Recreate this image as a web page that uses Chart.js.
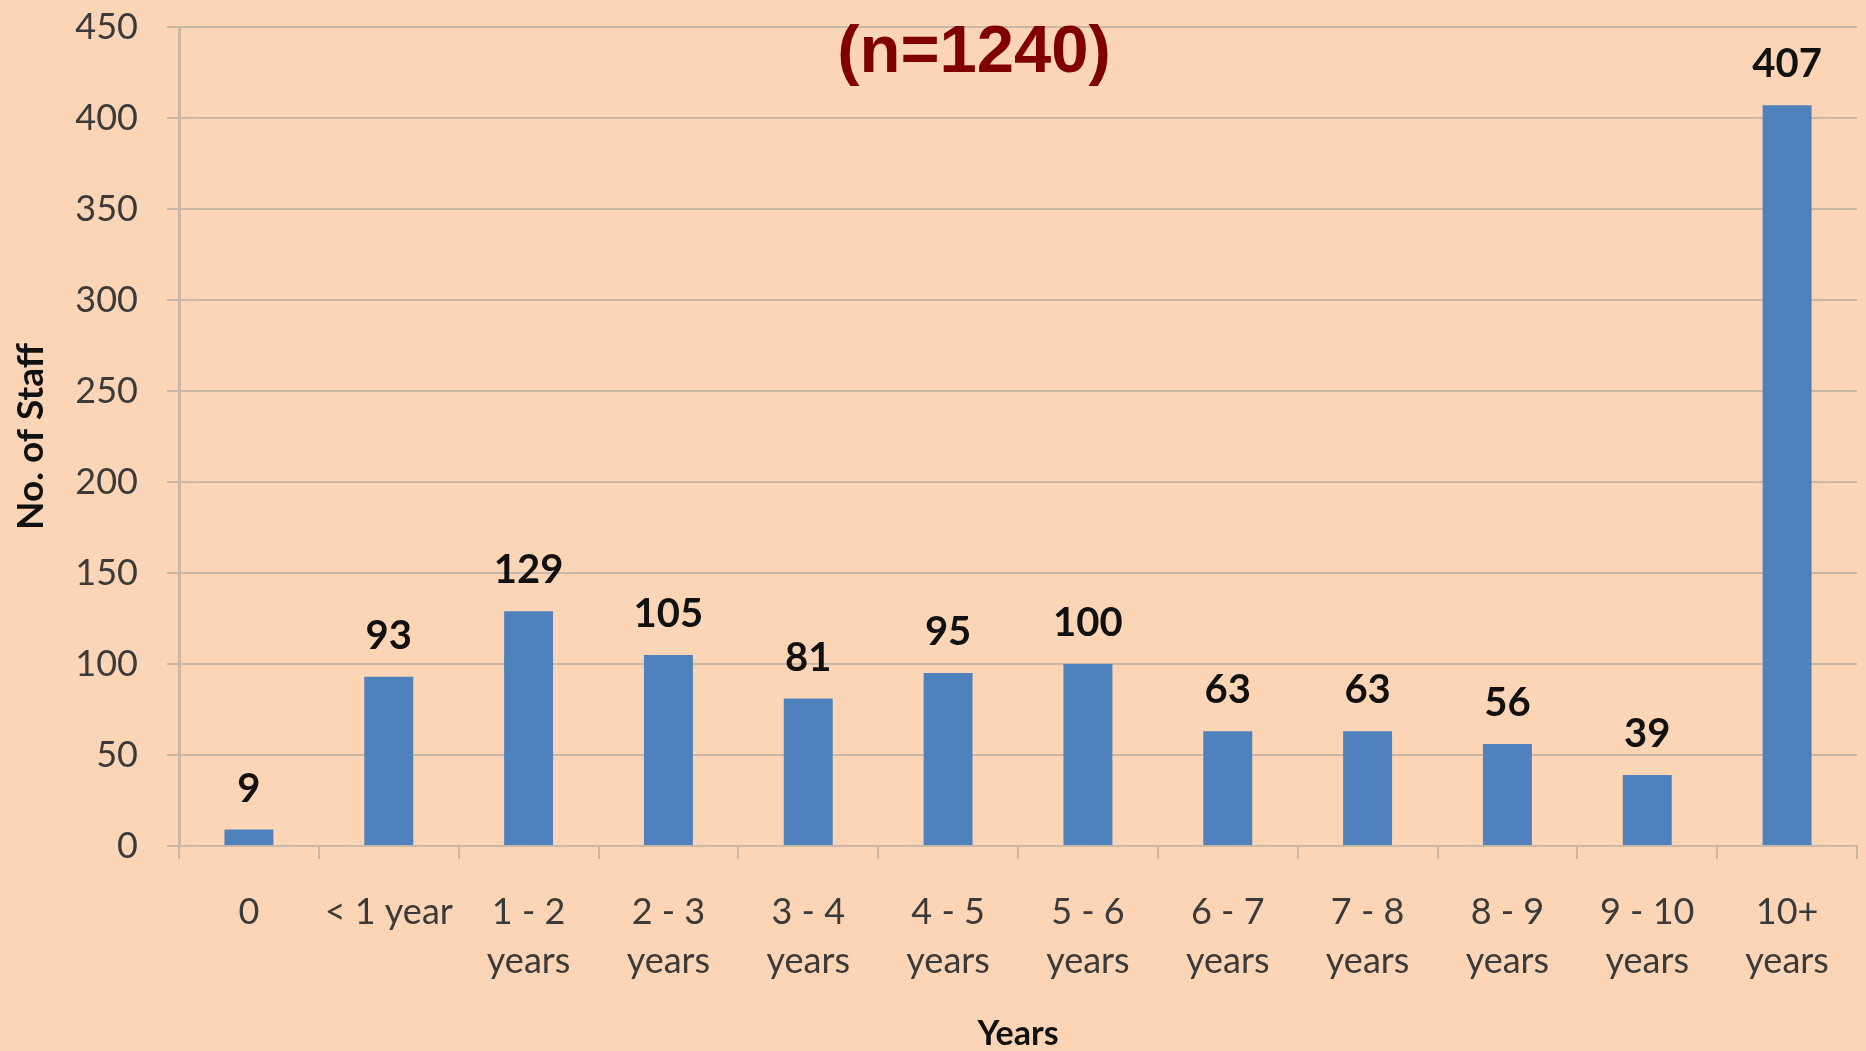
<!DOCTYPE html>
<html>
<head>
<meta charset="utf-8">
<script src="https://cdn.jsdelivr.net/npm/chart.js@4.4.1/dist/chart.umd.min.js"></script>
<style>
  html, body { margin: 0; padding: 0; background: #FBD5B5; }
  #wrap { width: 1866px; height: 1051px; position: relative; }
</style>
</head>
<body>
<div id="wrap"><canvas id="myChart"></canvas></div>
<script>
const categories = ['0', '< 1 year', ['1 - 2', 'years'], ['2 - 3', 'years'], ['3 - 4', 'years'],
    ['4 - 5', 'years'], ['5 - 6', 'years'], ['6 - 7', 'years'], ['7 - 8', 'years'],
    ['8 - 9', 'years'], ['9 - 10', 'years'], ['10+', 'years']];
const staff = [9, 93, 129, 105, 81, 95, 100, 63, 63, 56, 39, 407];
const yTicks = [0, 50, 100, 150, 200, 250, 300, 350, 400, 450];
const chartTitle = '(n=1240)';

const gridColor = '#C9B8A8';
const font = 'Lato';

// numbers above the bars
const valueLabels = {
    id: 'valueLabels',
    afterDatasetsDraw(chart) {
        const ctx = chart.ctx;
        const meta = chart.getDatasetMeta(0);
        ctx.save();
        ctx.font = 'bold 40px ' + font;
        ctx.fillStyle = '#111';
        ctx.textAlign = 'center';
        ctx.textBaseline = 'alphabetic';
        meta.data.forEach((bar, i) => {
            ctx.fillText(String(staff[i]), bar.x, bar.y - 28);
        });
        ctx.restore();
    }
};

// title sits over the top of the plot
const topTitle = {
    id: 'topTitle',
    afterDraw(chart) {
        const ctx = chart.ctx;
        ctx.save();
        ctx.font = 'bold 67px "Liberation Sans", Arial';
        ctx.fillStyle = '#800000';
        ctx.textAlign = 'center';
        ctx.textBaseline = 'alphabetic';
        ctx.fillText(chartTitle, 974, 72);
        ctx.restore();
    }
};

const config = {
    type: 'bar',
    data: {
        labels: categories,
        datasets: [{
            label: 'No. of Staff',
            data: staff,
            backgroundColor: '#4F81BD',
            borderWidth: 0,
            barPercentage: 0.35,
            categoryPercentage: 1
        }]
    },
    options: {
        responsive: true,
        maintainAspectRatio: false,
        animation: false,
        layout: { padding: { top: 27, right: 9, left: 0, bottom: 0 } },
        plugins: {
            legend: { display: false },
            title: { display: false },
            tooltip: { enabled: false }
        },
        scales: {
            x: {
                grid: {
                    offset: true,
                    drawOnChartArea: false,
                    drawTicks: true,
                    tickLength: 13,
                    color: gridColor,
                    lineWidth: 2
                },
                border: { display: true, color: gridColor, width: 2 },
                ticks: {
                    color: '#3a3a3a',
                    font: { family: font, size: 36, lineHeight: 1.36 },
                    padding: 29,
                    maxRotation: 0,
                    autoSkip: false
                },
                title: {
                    display: true,
                    text: 'Years',
                    color: '#111',
                    font: { family: font, size: 34, weight: 'bold', lineHeight: 1 },
                    padding: { top: 0, bottom: 0 }
                },
                afterFit(scale) { scale.height = 205; }
            },
            y: {
                min: 0,
                max: 450,
                afterBuildTicks(scale) { scale.ticks = yTicks.map(v => ({ value: v })); },
                grid: {
                    color: gridColor,
                    lineWidth: 2,
                    tickLength: 12
                },
                border: { display: true, color: gridColor, width: 3 },
                ticks: {
                    color: '#3a3a3a',
                    font: { family: font, size: 36 },
                    padding: 29
                },
                title: {
                    display: true,
                    text: 'No. of Staff',
                    color: '#111',
                    font: { family: font, size: 37, weight: 'bold', lineHeight: 1 },
                    padding: { top: 13, bottom: 0 }
                },
                afterFit(scale) {
                    scale.width = 179;
                    scale.paddingTop = 0;
                    scale.paddingBottom = 0;
                }
            }
        }
    },
    plugins: [valueLabels, topTitle]
};

const chart = new Chart(document.getElementById('myChart'), config);
</script>
</body>
</html>
